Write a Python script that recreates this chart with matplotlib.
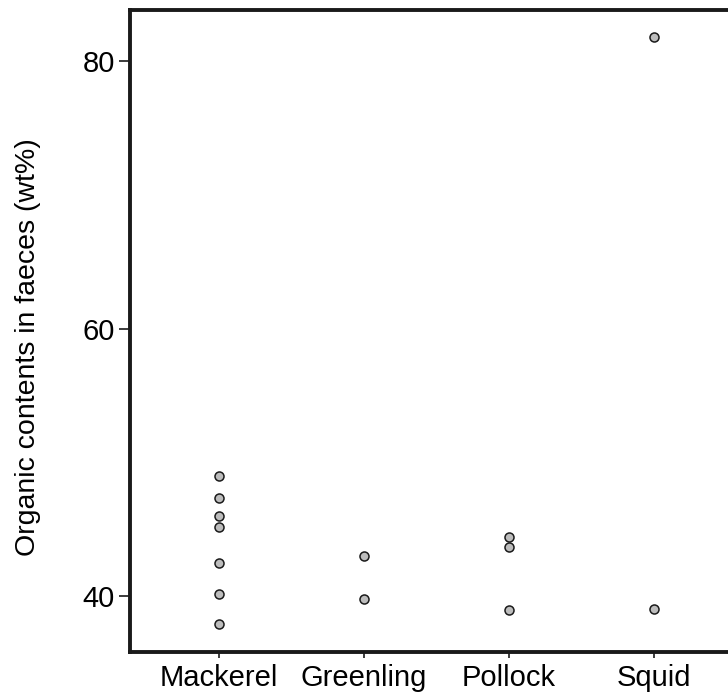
import matplotlib
matplotlib.use("Agg")
import matplotlib.pyplot as plt

plt.rcParams['font.family'] = ['Liberation Sans', 'DejaVu Sans']

categories = ["Mackerel", "Greenling", "Pollock", "Squid"]
mackerel = [48.97, 47.33, 45.98, 45.18, 42.49, 40.2, 37.91]
greenling = [42.99, 39.78]
pollock = [44.43, 43.69, 39.0]
squid = [81.77, 39.08]
series = [mackerel, greenling, pollock, squid]
yticks = [40, 60, 80]

fig = plt.figure(figsize=(7.28, 6.97), dpi=100)
ax = fig.add_axes([130/728, 1 - 652/697, 1 - 130/728, (652 - 10)/697])

for i, vals in enumerate(series):
    ax.plot([i] * len(vals), vals, linestyle='none', marker='o', markersize=6.5,
            markerfacecolor='#bdbdbd', markeredgecolor='#1a1a1a', markeredgewidth=1.1)

ax.set_xlim(-0.614, 3.51)
ax.set_ylim(35.83, 83.82)
ax.set_xticks(range(len(categories)))
ax.set_xticklabels(categories)
ax.set_yticks(yticks)
ax.tick_params(axis='both', labelsize=21, direction='out', color='#1a1a1a')
ax.tick_params(axis='y', length=8, width=1.2, pad=3)
ax.tick_params(axis='x', length=4, width=1.2, pad=5)
ax.set_ylabel("Organic contents in faeces (wt%)", fontsize=20.5, va='center')
ax.yaxis.set_label_coords((28 - 130) / 598, 0.475)

for s in ['left', 'bottom', 'top']:
    ax.spines[s].set_linewidth(2.8)
    ax.spines[s].set_color('#1a1a1a')
ax.spines['right'].set_visible(False)

fig.savefig("out.png", dpi=100)
